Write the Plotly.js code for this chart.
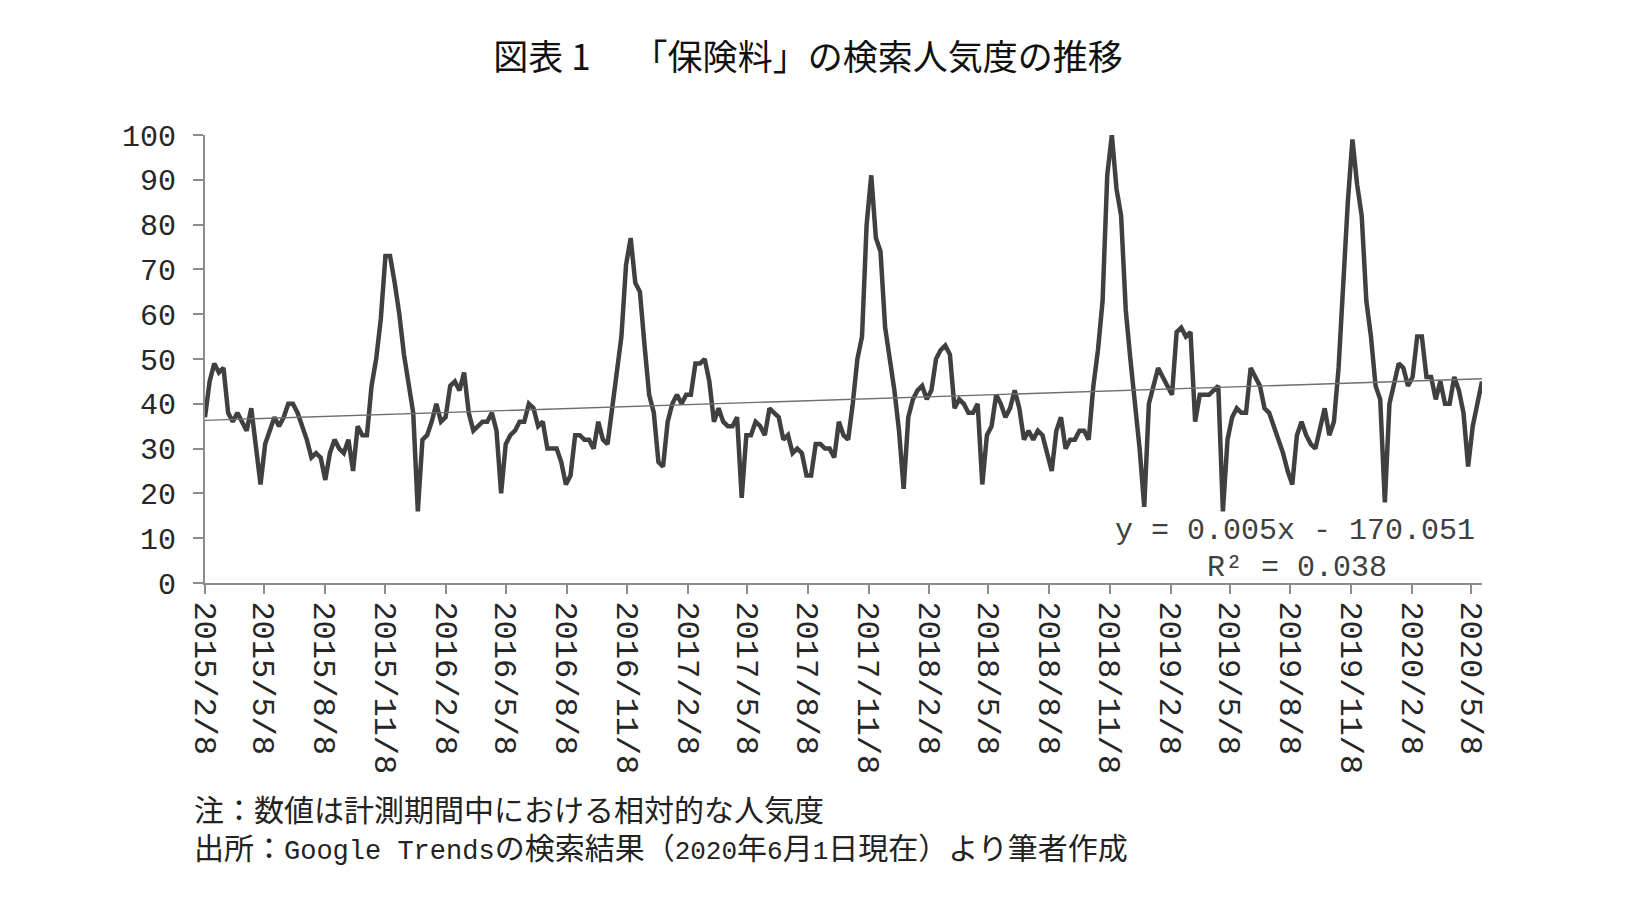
<!DOCTYPE html>
<html>
<head>
<meta charset="utf-8">
<script src="https://cdn.plot.ly/plotly-3.0.1.min.js"></script>
<style>
  html, body { margin: 0; padding: 0; background: #ffffff; }
  #chart { width: 1652px; height: 904px; }
</style>
</head>
<body>
<div id="chart"></div>
<script>
// ---- data (weekly Google Trends index) ----
const startDate = '2015-02-08';   // first weekly observation
const weekStepDays = 7;
const popularity = [
  37,45,49,47,48,38,36,38,36,34,39,31,22,31,34,37,35,37,40,40,
  38,35,32,28,29,28,23,29,32,30,29,32,25,35,33,33,44,50,59,73,
  73,67,60,51,45,38,16,32,33,36,40,36,37,44,45,43,47,38,34,35,
  36,36,38,34,20,31,33,34,36,36,40,39,35,36,30,30,30,27,22,24,
  33,33,32,32,30,36,32,31,39,48,55,71,77,67,65,53,42,38,27,26,
  36,40,42,40,42,42,49,49,50,45,36,39,36,35,35,37,19,33,33,36,
  35,33,39,38,37,32,33,29,30,29,24,24,31,31,30,30,28,36,33,32,
  40,50,55,80,91,77,74,57,50,43,34,21,37,41,43,44,41,43,50,52,
  53,51,39,41,40,38,38,40,22,33,35,42,40,37,39,43,39,32,34,32,
  34,33,29,25,34,37,30,32,32,34,34,32,44,52,63,91,100,88,82,61,
  50,41,30,17,40,44,48,46,44,42,56,57,55,56,36,42,42,42,43,44,
  16,32,37,39,38,38,48,46,44,39,38,35,32,29,25,22,33,36,33,31,
  30,34,39,33,36,48,67,85,99,89,82,63,55,44,41,18,40,44,49,48,
  44,46,55,55,46,46,41,45,40,40,46,43,38,26,35,40,45
];
const tickLabels = [
  '2015/2/8','2015/5/8','2015/8/8','2015/11/8',
  '2016/2/8','2016/5/8','2016/8/8','2016/11/8',
  '2017/2/8','2017/5/8','2017/8/8','2017/11/8',
  '2018/2/8','2018/5/8','2018/8/8','2018/11/8',
  '2019/2/8','2019/5/8','2019/8/8','2019/11/8',
  '2020/2/8','2020/5/8'
];
const yTicks = [0,10,20,30,40,50,60,70,80,90,100];
const titleText = '図表 1\u3000\u2009「保険料」の検索人気度の推移';
const equationText = 'y = 0.005x - 170.051';
const r2Text = 'R² = 0.038';
const note1 = '注：数値は計測期間中における相対的な人気度';
const note2 = '出所：<span style="font-size:27px">Google Trends</span>の検索結果（<span style="font-size:26px">2020</span>年<span style="font-size:26px">6</span>月<span style="font-size:26px">1</span>日現在）より筆者作成';

// ---- build x dates for the weekly series ----
function isoDate(d) {
  return d.getUTCFullYear() + '-' + String(d.getUTCMonth()+1).padStart(2,'0') + '-' + String(d.getUTCDate()).padStart(2,'0');
}
const t0 = Date.parse(startDate + 'T00:00:00Z');
const dates = popularity.map((_, i) => isoDate(new Date(t0 + i * weekStepDays * 86400000)));
const tickVals = tickLabels.map(s => {
  const [y, m, d] = s.split('/');
  return y + '-' + m.padStart(2,'0') + '-' + d.padStart(2,'0');
});

// ---- linear trend (least squares over days) ----
const xs = dates.map(s => Date.parse(s + 'T00:00:00Z') / 86400000);
const n = xs.length;
const mx = xs.reduce((a,b)=>a+b,0)/n;
const my = popularity.reduce((a,b)=>a+b,0)/n;
let sxy = 0, sxx = 0;
for (let i = 0; i < n; i++) { sxy += (xs[i]-mx)*(popularity[i]-my); sxx += (xs[i]-mx)*(xs[i]-mx); }
const slope = sxy / sxx, icpt = my - slope * mx;
const trendX = [dates[0], dates[n-1]];
const trendY = [icpt + slope * xs[0], icpt + slope * xs[n-1]];

// ---- layout geometry helpers (pixels -> paper) ----
const W = 1652, H = 904;
const M = { l: 205, r: 170, t: 135, b: 321 };
const pw = W - M.l - M.r, ph = H - M.t - M.b;
const px = x => (x - M.l) / pw;
const py = y => (H - M.b - y) / ph;

const monoFont = '"Liberation Mono", "Noto Sans CJK JP", monospace';
const jpFont = '"Liberation Mono", "Noto Sans CJK JP", sans-serif';

const traces = [
  {
    x: dates, y: popularity, type: 'scatter', mode: 'lines',
    line: { color: '#404040', width: 4.5 },
    hoverinfo: 'skip', showlegend: false
  },
  {
    x: trendX, y: trendY, type: 'scatter', mode: 'lines',
    line: { color: '#6e6e6e', width: 1.4 },
    hoverinfo: 'skip', showlegend: false
  }
];

const layout = {
  width: W, height: H,
  margin: M,
  paper_bgcolor: '#ffffff', plot_bgcolor: '#ffffff',
  showlegend: false,
  title: {
    text: titleText,
    xref: 'container', yref: 'container',
    x: 808 / W, xanchor: 'center',
    y: 1 - 58 / H, yanchor: 'middle',
    font: { family: '"Noto Sans CJK JP", sans-serif', size: 35, color: '#111111' }
  },
  xaxis: {
    type: 'date',
    range: [dates[0], dates[n-1]],
    tickmode: 'array', tickvals: tickVals, ticktext: tickLabels,
    tickangle: 90,
    ticks: 'outside', ticklen: 9, tickwidth: 2, tickcolor: '#8c8c8c',
    showline: true, linecolor: '#8c8c8c', linewidth: 2,
    showgrid: false, zeroline: false,
    ticklabelstandoff: 1,
    tickfont: { family: monoFont, size: 32, color: '#262626' }
  },
  yaxis: {
    range: [0, 100],
    tickmode: 'array', tickvals: yTicks, ticktext: yTicks.map(String),
    ticks: 'outside', ticklen: 10, tickwidth: 2, tickcolor: '#8c8c8c',
    showline: true, linecolor: '#8c8c8c', linewidth: 2,
    showgrid: false, zeroline: false,
    ticklabelstandoff: 11,
    tickfont: { family: monoFont, size: 30, color: '#262626' }
  },
  annotations: [
    { text: equationText, xref: 'paper', yref: 'paper', x: px(1295), y: py(531),
      xanchor: 'center', yanchor: 'middle', showarrow: false,
      font: { family: monoFont, size: 30, color: '#404040' } },
    { text: r2Text, xref: 'paper', yref: 'paper', x: px(1297), y: py(568),
      xanchor: 'center', yanchor: 'middle', showarrow: false,
      font: { family: monoFont, size: 30, color: '#404040' } },
    { text: note1, xref: 'paper', yref: 'paper', x: px(192), y: py(812),
      xanchor: 'left', yanchor: 'middle', showarrow: false,
      font: { family: jpFont, size: 30, color: '#222222' } },
    { text: note2, xref: 'paper', yref: 'paper', x: px(192), y: py(850),
      xanchor: 'left', yanchor: 'middle', showarrow: false,
      font: { family: jpFont, size: 30, color: '#222222' } }
  ]
};

Plotly.newPlot('chart', traces, layout, { staticPlot: true, displayModeBar: false });
</script>
</body>
</html>
